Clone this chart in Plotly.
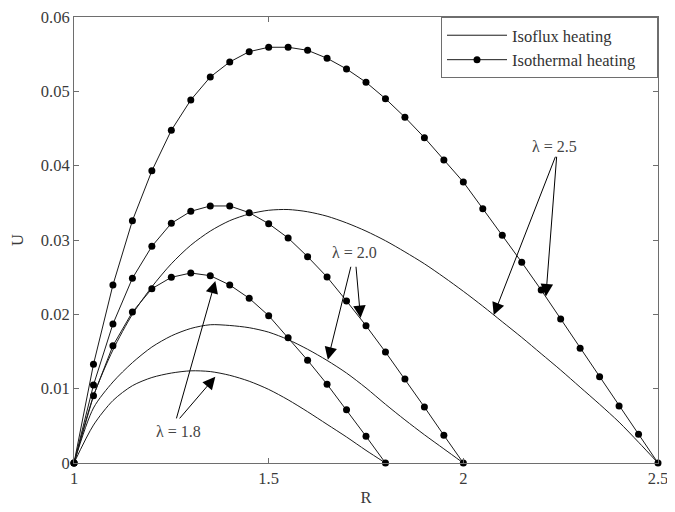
import plotly.graph_objects as go

# ---- data ----
R_18 = [1.00, 1.05, 1.10, 1.15, 1.20, 1.25, 1.30, 1.35, 1.40, 1.45, 1.50, 1.55, 1.60, 1.65, 1.70, 1.75, 1.80]
R_20 = [1.00, 1.05, 1.10, 1.15, 1.20, 1.25, 1.30, 1.35, 1.40, 1.45, 1.50, 1.55, 1.60, 1.65, 1.70, 1.75, 1.80,
        1.85, 1.90, 1.95, 2.00]
R_25 = [1.00, 1.05, 1.10, 1.15, 1.20, 1.25, 1.30, 1.35, 1.40, 1.45, 1.50, 1.55, 1.60, 1.65, 1.70, 1.75, 1.80,
        1.85, 1.90, 1.95, 2.00, 2.05, 2.10, 2.15, 2.20, 2.25, 2.30, 2.35, 2.40, 2.45, 2.50]

# Isoflux heating
U_flux_18 = [0, 0.0051, 0.0084, 0.0104, 0.0115, 0.0121, 0.0124, 0.0123, 0.0118, 0.0110, 0.0099, 0.0085,
             0.0069, 0.0052, 0.0035, 0.0017, 0]
U_flux_20 = [0, 0.0074, 0.0109, 0.0135, 0.0156, 0.0171, 0.0181, 0.0186, 0.0185, 0.0182, 0.0176, 0.0166,
             0.0153, 0.0138, 0.0121, 0.0101, 0.0079, 0.0058, 0.0038, 0.0019, 0]
U_flux_25 = [0, 0.0090, 0.0152, 0.0200, 0.0237, 0.0268, 0.0293, 0.0312, 0.0326, 0.0335, 0.0340, 0.0341,
             0.0338, 0.0332, 0.0323, 0.0312, 0.0299, 0.0284, 0.0268, 0.0250, 0.0231, 0.0211, 0.0190, 0.0169,
             0.0147, 0.0125, 0.0102, 0.0079, 0.0055, 0.0028, 0]

# Isothermal heating
U_therm_18 = [0, 0.00906, 0.01578, 0.02031, 0.02345, 0.02498, 0.02556, 0.02520, 0.02395, 0.02216, 0.01982,
              0.01686, 0.01382, 0.01059, 0.00717, 0.00359, 0]
U_therm_20 = [0, 0.01049, 0.01870, 0.02485, 0.02915, 0.03225, 0.03386, 0.03458, 0.03458, 0.03368, 0.03220,
              0.03027, 0.02776, 0.02502, 0.02180, 0.01847, 0.01493, 0.01130, 0.00753, 0.00373, 0]
U_therm_25 = [0, 0.01328, 0.02395, 0.03260, 0.03930, 0.04476, 0.04884, 0.05193, 0.05395, 0.05534, 0.05593,
              0.05593, 0.05552, 0.05445, 0.05301, 0.05122, 0.04901, 0.04651, 0.04377, 0.04076, 0.03780,
              0.03421, 0.03063, 0.02700, 0.02327, 0.01937, 0.01543, 0.01161, 0.00767, 0.00386, 0]

x_ticks = [1, 1.5, 2, 2.5]
x_tick_text = ["1", "1.5", "2", "2.5"]
y_ticks = [0, 0.01, 0.02, 0.03, 0.04, 0.05, 0.06]
y_tick_text = ["0", "0.01", "0.02", "0.03", "0.04", "0.05", "0.06"]

# lambda labels: (text, text_R, text_U, [(tail_R, tail_U, tip_R, tip_U), ...])
labels = [
    ("λ = 1.8", 1.268, 0.0042, [(1.262, 0.0058, 1.363, 0.0245), (1.268, 0.0058, 1.363, 0.0116)]),
    ("λ = 2.0", 1.720, 0.0283, [(1.712, 0.0266, 1.652, 0.0139), (1.724, 0.0266, 1.736, 0.0195)]),
    ("λ = 2.5", 2.235, 0.0426, [(2.238, 0.0414, 2.078, 0.0199), (2.240, 0.0414, 2.212, 0.0224)]),
]

FONT = "Liberation Serif, Times New Roman, serif"
LINE = "#1a1a1a"
TXT = "#3a3a3a"

fig = go.Figure()

flux_sets = [(R_18, U_flux_18), (R_20, U_flux_20), (R_25, U_flux_25)]
therm_sets = [(R_18, U_therm_18), (R_20, U_therm_20), (R_25, U_therm_25)]

for i, (rx, uy) in enumerate(flux_sets):
    fig.add_trace(go.Scatter(
        x=rx, y=uy, mode="lines", name="Isoflux heating\u00a0\u00a0\u00a0\u00a0",
        line=dict(color=LINE, width=1, shape="spline", smoothing=0.8),
        legendgroup="flux", showlegend=(i == 0), cliponaxis=False,
    ))
for i, (rx, uy) in enumerate(therm_sets):
    fig.add_trace(go.Scatter(
        x=rx, y=uy, mode="lines+markers", name="Isothermal heating\u00a0\u00a0\u00a0\u00a0",
        line=dict(color=LINE, width=1),
        marker=dict(color="black", size=7, symbol="circle"),
        legendgroup="therm", showlegend=(i == 0), cliponaxis=False,
    ))

annotations = []
for text, tx, ty, arrows in labels:
    annotations.append(dict(
        x=tx, y=ty, xref="x", yref="y", text=text, showarrow=False,
        font=dict(family=FONT, size=16, color="#444444"),
    ))
    for (ax_, ay_, x_, y_) in arrows:
        annotations.append(dict(
            x=x_, y=y_, ax=ax_, ay=ay_, xref="x", yref="y", axref="x", ayref="y",
            text="", showarrow=True, arrowhead=2, arrowsize=2.5, arrowwidth=1,
            arrowcolor="black", standoff=0, startstandoff=0,
        ))

axis_common = dict(
    showline=True, linecolor="#6e6e6e", linewidth=1, mirror="ticks",
    ticks="inside", ticklen=5, tickcolor="#6e6e6e",
    showgrid=False, zeroline=False, automargin=False,
    ticklabeloverflow="allow",
    tickfont=dict(family=FONT, size=16.5, color=TXT),
)

# the page body adds an 8px offset, so the figure is sized/margined to compensate
fig.update_layout(
    width=667, height=504,
    margin=dict(l=66, r=17, t=9, b=49),
    paper_bgcolor="white", plot_bgcolor="white",
    font=dict(family=FONT, size=16, color=TXT),
    xaxis=dict(range=[1, 2.5], tickvals=x_ticks, ticktext=x_tick_text,
               title=dict(text="R", font=dict(family=FONT, size=16.5, color=TXT), standoff=4),
               **axis_common),
    yaxis=dict(range=[0, 0.06], tickvals=y_ticks, ticktext=y_tick_text,
               title=dict(text="U", font=dict(family=FONT, size=16.5, color=TXT), standoff=18),
               **axis_common),
    legend=dict(x=1, y=1, xanchor="right", yanchor="top",
                bgcolor="white", bordercolor="#6e6e6e", borderwidth=1,
                font=dict(family=FONT, size=16.5, color="#333333"),
                tracegroupgap=0, itemwidth=60),
    annotations=annotations,
    showlegend=True,
)

fig.write_html("out.html")
